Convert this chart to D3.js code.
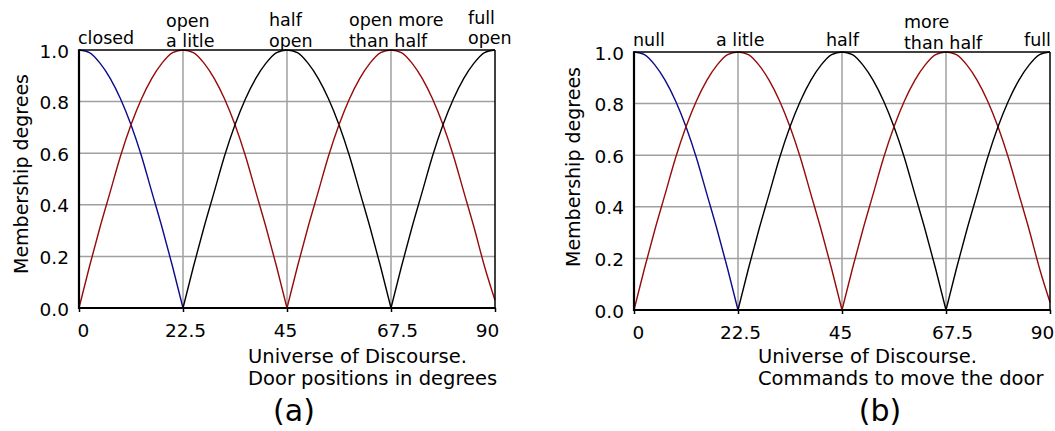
<!DOCTYPE html>
<html>
<head>
<meta charset="utf-8">
<script src="https://cdn.jsdelivr.net/npm/d3@7"></script>
<style>
  body { margin: 0; background: #fff; }
  svg { display: block; font-family: "DejaVu Sans", Verdana, sans-serif; }
</style>
</head>
<body>
<div id="chart"></div>
<script>
// membership functions sampled on the universe of discourse (0..90)
const xs = [0, 2.25, 4.5, 6.75, 9, 11.25, 13.5, 15.75, 18, 20.25,
            22.5, 24.75, 27, 29.25, 31.5, 33.75, 36, 38.25, 40.5, 42.75,
            45, 47.25, 49.5, 51.75, 54, 56.25, 58.5, 60.75, 63, 65.25,
            67.5, 69.75, 72, 74.25, 76.5, 78.75, 81, 83.25, 85.5, 87.75, 90];

const mfClosed = [1.00, 0.99, 0.95, 0.89, 0.81, 0.71, 0.59, 0.45, 0.31, 0.16,
                  0.00, null, null, null, null, null, null, null, null, null,
                  null, null, null, null, null, null, null, null, null, null,
                  null, null, null, null, null, null, null, null, null, null, null];
const mfLittle = [0.00, 0.16, 0.31, 0.45, 0.59, 0.71, 0.81, 0.89, 0.95, 0.99,
                  1.00, 0.99, 0.95, 0.89, 0.81, 0.71, 0.59, 0.45, 0.31, 0.16,
                  0.00, null, null, null, null, null, null, null, null, null,
                  null, null, null, null, null, null, null, null, null, null, null];
const mfHalf = [null, null, null, null, null, null, null, null, null, null,
                0.00, 0.16, 0.31, 0.45, 0.59, 0.71, 0.81, 0.89, 0.95, 0.99,
                1.00, 0.99, 0.95, 0.89, 0.81, 0.71, 0.59, 0.45, 0.31, 0.16,
                0.00, null, null, null, null, null, null, null, null, null, null];
const mfMore = [null, null, null, null, null, null, null, null, null, null,
                null, null, null, null, null, null, null, null, null, null,
                0.00, 0.16, 0.31, 0.45, 0.59, 0.71, 0.81, 0.89, 0.95, 0.99,
                1.00, 0.99, 0.95, 0.89, 0.81, 0.71, 0.59, 0.45, 0.31, 0.16, 0.03];
const mfFull = [null, null, null, null, null, null, null, null, null, null,
                null, null, null, null, null, null, null, null, null, null,
                null, null, null, null, null, null, null, null, null, null,
                0.00, 0.16, 0.31, 0.45, 0.59, 0.71, 0.81, 0.89, 0.95, 0.99, 1.00];

const seriesValues = [mfClosed, mfLittle, mfHalf, mfMore, mfFull];
const seriesColors = ["#0b0b8c", "#960a0a", "#000000", "#960a0a", "#000000"];

const xTicks = [0, 22.5, 45, 67.5, 90];
const yTicks = [0, 0.2, 0.4, 0.6, 0.8, 1.0];

// term names above each curve
const labelsA = [["closed"], ["open", "a litle"], ["half", "open"], ["open more", "than half"], ["full", "open"]];
const labelsB = [["null"], ["a litle"], ["half"], ["more", "than half"], ["full"]];

const W = 1055, H = 431;

const svg = d3.select("#chart").append("svg")
    .attr("width", W)
    .attr("height", H);

// small nudges of the x tick labels, as in the original
const xTickNudge = [4, 2, -2, 6, -8];

// panel layout (pixels) and where each term label sits
const panels = [
  { left: 79, top: 50, right: 495, bottom: 308,
    labels: labelsA,
    labelPos: [ {dx: -1, y: [44]}, {dx: -17, y: [27, 47]}, {dx: -18, y: [26, 47]},
                {dx: -42, y: [26, 47]}, {dx: -27, y: [24, 44]} ],
    yTitleX: 21, yTitleY: 174,
    xTitle: ["Universe of Discourse.", "Door positions in degrees"], xTitleX: 248,
    caption: "(a)", captionX: 294 },
  { left: 634, top: 52, right: 1050, bottom: 310,
    labels: labelsB,
    labelPos: [ {dx: -1, y: [46]}, {dx: -22, y: [46]}, {dx: -16, y: [46]},
                {dx: -42, y: [28, 49]}, {dx: -26, y: [46]} ],
    yTitleX: 573, yTitleY: 167,
    xTitle: ["Universe of Discourse.", "Commands to move the door"], xTitleX: 758,
    caption: "(b)", captionX: 880 }
];

panels.forEach(function(p) {
  let x = d3.scaleLinear().domain([0, 90]).range([p.left, p.right]);
  let y = d3.scaleLinear().domain([0, 1]).range([p.bottom, p.top]);

  let g = svg.append("g");

  // grid lines
  g.append("g").selectAll("line")
      .data(xTicks.slice(1, -1))
      .enter().append("line")
      .attr("x1", d => x(d)).attr("x2", d => x(d))
      .attr("y1", y(0)).attr("y2", y(1))
      .attr("stroke", "#a0a0a0").attr("stroke-width", 1.5);
  g.append("g").selectAll("line")
      .data(yTicks.slice(1, -1))
      .enter().append("line")
      .attr("x1", x(0)).attr("x2", x(90))
      .attr("y1", d => y(d)).attr("y2", d => y(d))
      .attr("stroke", "#a0a0a0").attr("stroke-width", 1.5);

  // curves
  let line = d3.line()
      .x(d => x(d[0]))
      .y(d => y(d[1]))
      .curve(d3.curveMonotoneX);

  seriesValues.forEach(function(vals, i) {
    let pts = xs.map((v, k) => [v, vals[k]]).filter(d => d[1] != null);
    g.append("path")
        .attr("d", line(pts))
        .attr("fill", "none")
        .attr("stroke", seriesColors[i])
        .attr("stroke-width", 1.4);
  });

  // frame: thin top / right, heavier axes
  g.append("line").attr("x1", x(0)).attr("x2", x(90)).attr("y1", y(1)).attr("y2", y(1))
      .attr("stroke", "#000").attr("stroke-width", 1.5);
  g.append("line").attr("x1", x(90)).attr("x2", x(90)).attr("y1", y(1)).attr("y2", y(0))
      .attr("stroke", "#000").attr("stroke-width", 1.5);
  g.append("line").attr("x1", x(0)).attr("x2", x(0)).attr("y1", y(1) - 0.75).attr("y2", y(0) + 1)
      .attr("stroke", "#000").attr("stroke-width", 2.2);
  g.append("line").attr("x1", x(0) - 1).attr("x2", x(90) + 0.75).attr("y1", y(0)).attr("y2", y(0))
      .attr("stroke", "#000").attr("stroke-width", 2.2);

  // axes (labels + small ticks)
  let xAxis = g.append("g")
      .attr("transform", `translate(0, ${y(0)})`)
      .call(d3.axisBottom(x).tickValues(xTicks).tickSize(4).tickPadding(12).tickFormat(d3.format("")));
  xAxis.select(".domain").remove();
  xAxis.selectAll("line").attr("stroke-width", 1.5);
  xAxis.selectAll("text").style("font-size", "18.5px").attr("fill", "#000")
      .attr("font-family", "DejaVu Sans")
      .attr("dx", (d, i) => xTickNudge[i]);

  let yAxis = g.append("g")
      .attr("transform", `translate(${x(0)}, 0)`)
      .call(d3.axisLeft(y).tickValues(yTicks).tickSize(0).tickPadding(10).tickFormat(d3.format(".1f")));
  yAxis.select(".domain").remove();
  yAxis.selectAll("text").style("font-size", "18.5px").attr("fill", "#000")
      .attr("font-family", "DejaVu Sans").attr("dy", "0.38em");

  // term labels
  p.labels.forEach(function(lines, i) {
    let lp = p.labelPos[i];
    let cx = x(xTicks[i]) + lp.dx;
    lines.forEach(function(t, j) {
      g.append("text")
          .attr("x", cx)
          .attr("y", lp.y[j])
          .style("font-size", "17.5px")
          .text(t);
    });
  });

  // y title
  g.append("text")
      .attr("transform", `translate(${p.yTitleX}, ${p.yTitleY}) rotate(-90)`)
      .attr("text-anchor", "middle")
      .attr("dy", "0.35em")
      .style("font-size", "19px")
      .text("Membership degrees");

  // x title, two lines left aligned
  p.xTitle.forEach(function(t, j) {
    g.append("text")
        .attr("x", p.xTitleX)
        .attr("y", 363 + j * 22)
        .style("font-size", "19.5px")
        .text(t);
  });

  // panel caption
  g.append("text")
      .attr("x", p.captionX)
      .attr("y", 421)
      .attr("text-anchor", "middle")
      .style("font-size", "30px")
      .text(p.caption);
});
</script>
</body>
</html>
